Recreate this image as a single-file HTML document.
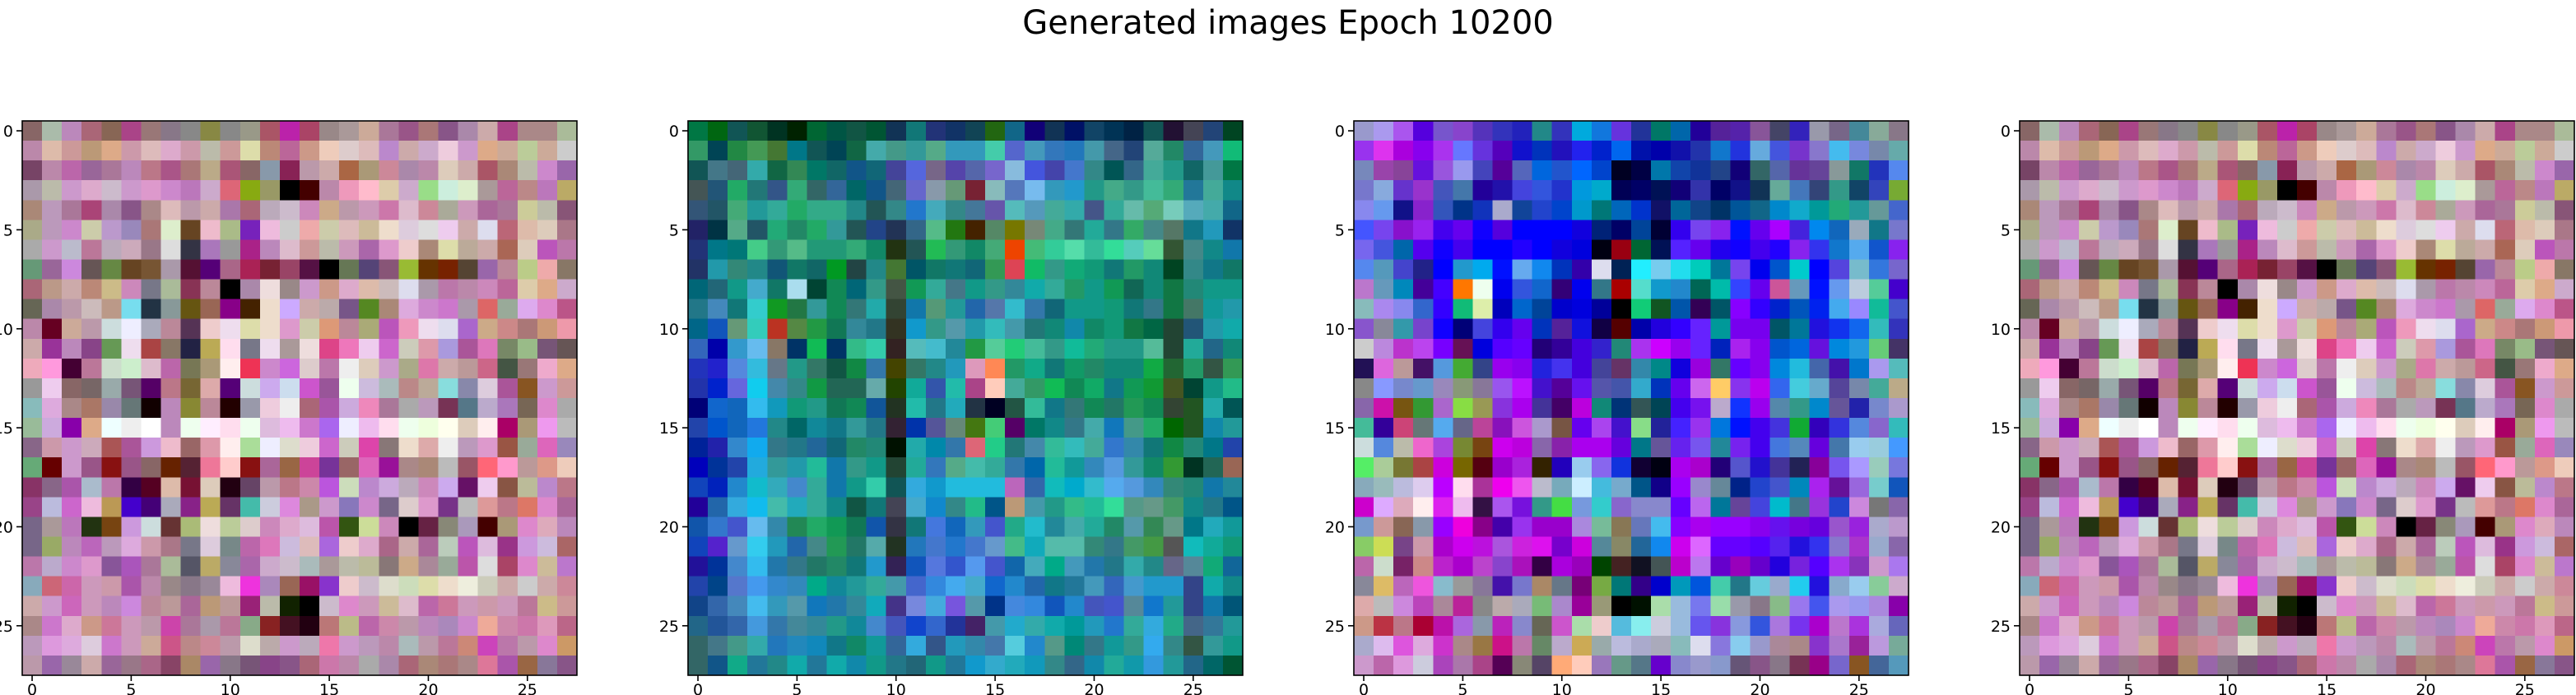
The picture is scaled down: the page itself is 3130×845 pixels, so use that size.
<!DOCTYPE html>
<html><head><meta charset="utf-8"><title>Generated images Epoch 10200</title>
<style>html,body{margin:0;padding:0;background:#fff;}svg{display:block;}text{font-family:"DejaVu Sans","Liberation Sans",sans-serif;}</style>
</head><body>
<svg id="fig" width="3130" height="845" viewBox="0 0 3130 845" xmlns="http://www.w3.org/2000/svg">
<text x="1565" y="41" font-size="40" text-anchor="middle" fill="#000">Generated images Epoch 10200</text>
</svg>
<script>
const tickValues = [0,5,10,15,20,25];
const tickLabels = ["0","5","10","15","20","25"];
const panel1 = [
"866 aba b8b a67 865 a48 977 878 888 884 888 998 a56 b2a a46 988 a99 ca9 a79 958 a77 858 a8a caa a48 a88 a88 ab9",
"b8a dba c99 b97 da8 c9a dbb dac c9a bba c99 dda b87 b69 c98 ecb dcc dbb b8c caa cac ecd c9c da8 ca9 bc9 ca9 ccc",
"746 b8a b6a 969 a79 b8b b78 a58 a77 ba8 a57 866 89a 825 b9a caa a64 a97 c89 a8a b8a dcb caa a56 a87 bba c8c 96a",
"a9a bba c9c dac cbc c9c d9c c8c b7b cac d67 8a1 996 000 400 b8a e9b fbc dca cac 9d8 ced dec a99 b69 b88 b7b ba6",
"a87 b9b a79 a47 a8a 858 a88 dbb b9a caa a7a a67 bab cbc c8b ca8 b9a c9b c7a dbc c89 aa9 c9b a69 a79 cc9 bba 857",
"aa8 b9b c8c cca b9c 98b a77 dec 642 ebc ab8 72b ebd ccc eaa cca dbb cb9 edc dcd ddd ece caa dde b67 dba dcb a78",
"aaa c9c bbc b79 bab cab 978 ddd 334 a7b 999 a28 b8b dbc c99 bba c9b a6a d9c ecc a87 dda ba9 caa a65 dcb b5b b7a",
"697 969 c8d 655 684 642 753 a9a 513 507 a68 a25 723 946 514 000 675 547 857 9b3 630 720 543 96a b89 bc8 eaa 876",
"a67 b98 caa b87 cb8 c8b 778 ab9 835 b89 000 a8a edd 988 c9c c98 dac dba cbb dde a9a b7a b8a c8b b69 dca da8 cac",
"665 a8a b9a cbb b98 7de 234 899 651 965 808 420 edc caf caa baa 758 582 a87 dad c8c c7c a9a d66 9a9 dae d8c b58",
"b8a 602 ca9 b9a cdd eef aab b89 535 ecc ede dda edc d9c cca d97 b89 aa7 b5b e9b ede dde a6c ca8 c88 a77 c97 e9a",
"caa 939 b8b 848 695 ede a44 876 224 ba5 fde 778 ede a99 edd d48 e7b ece c6c ccb d9a a9d a59 d7b 786 9b8 757 655",
"eab f9d 403 b79 cdc cec dbc b6a 775 a97 fee e35 c8c c6d dcc b7a eee dcb c9c aa8 d7a caa b99 c68 454 977 eac da8",
"999 ece 866 766 9aa 757 506 b78 763 daa 507 cdd cae cde c5c 959 efe cbd abb b88 ba9 8dd 88a dcd a59 852 c9c c99",
"8bb dad a88 a76 98a 677 100 b8b 883 b89 200 99a ecd eee a67 a5a cad e8b a79 aaa b9b 735 578 bac a7b 765 d8c aaa",
"9b9 cad 80a da8 eff eee fff b8b efe fef fde efe dbd ebe c7c a6e eef ebe fde efe efd ffe dcb fee a06 a97 e9e bbb",
"868 c9a c9c cab a55 a59 c9d ebc 966 d9a fee ad9 eef ddc ecd c6c ccb d4a 877 edc daa eee b9b d9c 954 9a9 d6b 98b",
"6a7 600 c9c 958 811 958 866 620 523 e79 fcc 811 a69 964 c49 739 966 d6b 919 a88 a87 bbb 956 f67 f9c b99 d98 ecb",
"836 868 a5a abc b7a 304 502 dba 713 dcb 201 646 b9a b78 c8a b5d cdb b8c cad bab c8b cae 616 ece 854 bb9 b8c b78",
"948 bbd c6c ebd b95 40c 407 aab 828 ba5 636 4ba ccd d8d a98 c9c 87b c8c 768 dcc d9c 738 bbb d99 b78 d76 d8c a69",
"768 a99 b7b 231 741 c9d cdd 633 ab7 edd bc9 dcc c8b dac dbd b5a 351 cd9 c8b 000 624 887 a9b 400 a97 d8c dab b8b",
"768 9a6 b8b b6b b9b dad c9a a78 778 dcd 788 b6a d7b cbd dbb a6d ecc dac a68 caa a69 bcb b5b dbd 938 c9d cbd a66",
"b7a bac c8c d9c 859 a5b a79 ab9 556 ba6 889 a6a cac cbc abb a99 bba bb9 877 ca8 a89 9a9 b5a ddd a46 d8c cb9 b7c",
"8ab c67 c6a c9b c9a a5a b8a 988 878 989 ebd e3d a8b 965 916 83c ecc cbc ddc cdb dda edc eed ccb caa ccc caa c89",
"caa c9c c6b c9b b8b c8d b89 b99 a69 b97 b99 927 bba 120 000 cbc d8c c9b cb9 dbc b6a c79 c9b c9a c9b b79 cb8 c99",
"a88 c7c dac c98 c79 c9b b9a c4a a79 a9a b79 8a8 822 412 201 b77 bb8 b6a c8a b9a b8b a8b c8c ea9 c8a c7a d9b b68",
"b9b d9d dad dcd c7c c9b ca9 c58 b88 c89 b9a ddc baa c9c bab e7a c9c b9b b8a abb b9a b79 c87 c4b b7a b9a d8c c96",
"b9a 96a 989 caa 969 978 a68 846 a86 96a 878 757 848 858 a67 c7a b8a aaa a8a a67 a87 a77 a88 d79 a5a 964 879 858"];
const panel2 = [
"074 061 155 153 032 020 063 054 154 053 135 177 237 136 145 261 168 107 135 016 146 035 024 155 213 445 247 042",
"396 045 284 495 473 078 155 045 164 4aa 498 399 5a8 39b 39b 4ca 56c 49b 37b 27b 49a 468 247 5a9 286 369 49b 1b7",
"155 478 467 3aa 164 385 076 166 158 167 449 56d 768 54a 56a 76c 8bd 45d 44a 47c 388 055 368 4a9 298 166 499 074",
"455 257 2a6 277 358 3a7 366 369 066 158 467 66c 89a 697 723 8bb 57b 7be 39b 29c 298 4a8 398 4b9 3a7 279 4a9 188",
"357 256 4a7 299 3a9 2a6 3a8 3a8 288 255 388 27c 4ab 388 479 65a 5bb 59b 4a9 3aa 458 3a9 6ba 5a7 7cb 5ab 4aa 168",
"226 034 5a8 256 2a7 286 2a6 399 255 248 235 368 5b8 271 420 586 770 787 4a8 377 2a9 378 3a6 488 576 178 29b 136",
"237 078 077 4c8 397 5b8 297 297 3a7 186 231 255 2b5 397 186 4a7 e40 4b7 3c9 5da 3b9 3d9 5cb 6d9 353 488 188 17a",
"236 29a 387 288 157 176 166 092 244 288 473 056 176 177 167 395 d45 1b6 398 1a7 197 177 296 187 042 388 178 176",
"067 267 198 4ac 176 ade 043 185 067 398 454 195 3a9 478 198 398 389 1aa 3a9 296 198 195 165 187 174 287 198 198",
"278 48b 177 3cc 192 274 399 185 377 2aa 343 17a 597 299 26a 57a 3bc 37a 167 198 198 197 177 378 174 476 199 29a",
"068 15b 697 3cb b32 584 294 175 389 278 332 19c 398 59a 29a 3bb 49a 277 187 18a 186 197 174 064 243 257 29a 1aa",
"36b 00a 39c 6be 876 036 1b5 036 3b8 3ca 322 5bb 4bc 289 294 5c9 2c7 4b9 398 1b9 2a7 298 298 5b9 243 2a9 268 187",
"23b 22c 58d 3bd 678 298 376 154 184 37a 440 376 288 29b d9b f85 296 1a8 177 196 286 187 187 1a4 263 296 354 395",
"23a 02c 66d 1ce 48a 388 194 265 265 6aa 240 1a9 35a 2ba a48 fcb 4a9 396 1b5 185 1a6 178 195 193 452 043 198 2b8",
"007 16c 16b 3be 19b 197 298 175 185 159 232 2ba 278 2ab 234 002 254 3b9 178 377 185 276 295 185 343 252 2aa 055",
"24a 05c 16b 27d 288 066 189 178 399 278 323 03a 559 687 471 4c7 506 076 188 378 4aa 17b 498 2a6 060 252 18a 299",
"029 22a 38c 1ae 378 278 269 167 286 287 010 2aa 08a 37a d67 2c8 277 48a 3b9 3bb 4a9 37c 38a 177 184 287 078 24a",
"00b 039 24a 2ad 399 29a 2b9 17a 398 198 243 2a9 37b 5a8 4ba 3a9 37a 06a 2b9 199 38b 59d 399 186 393 032 265 965",
"14b 02b 28c 1bc 3ab 48c 3a9 17a 198 3ca 155 3ad 19c 2bd 2bd 2bd b6b 36a 1bb 0ac 3bc 5ae 59d 38b 387 287 17a 289",
"209 26a 3ad 1be 4ba 2ab 3a9 188 154 177 445 4ac 18c 388 2b8 058 b97 49a 298 3b8 2b9 3d9 598 698 496 188 278 058",
"15a 37c 45c 6be 38a 285 2a6 195 175 15a 334 177 47d 16b 39b 45c 2a8 2bc 289 4aa 2a9 286 59a 385 698 078 2ab 199",
"14b 52c 69c 3ce 29b 26a 488 295 276 5aa 232 27b 47c 27c 47c 69c 4b8 1ab 5ba 5ba 387 378 496 494 555 1bb 1a9 197",
"219 039 48c 3be 27a 378 276 286 177 29c 325 15b 57d 35c 59e 45c 16a 4ab 0a8 49b 27a 278 3aa 288 668 589 1a7 169",
"24a 048 57c 49e 38c 38b 0a8 189 299 3a9 49a 46c 38d 4ae 4ac 16c 28c 26a 178 279 49b 36b 49c 29c 29c 348 1aa 188",
"148 36a 48b 4be 39b 59a 17b 27a 389 1ab 438 78d 4ad 75d 59a 038 48d 38d 15b 28c 45b 45c 589 17c 299 348 17a 057",
"268 259 36a 49d 37a 489 389 298 189 48c 45b 14c 36c 239 426 49a 2ac 3aa 1aa 099 29b 27c 3a9 3ad 2a8 468 379 299",
"366 478 498 3aa 27b 28b 18b 178 186 199 369 3ad 358 29b 38a 47a 5cd 28c 598 087 378 199 398 3ae 388 354 399 198",
"366 158 1a8 279 288 1aa 279 1aa 18a 198 278 267 198 279 19c 3ac 2ab 19b 388 368 18a 2a9 19a 39d 299 268 066 053"];
const panel3 = [
"99c a9e a5e 50d 75c 84c 53b 33b 22b 288 33b 0ad 17d 63d 239 076 06a 209 529 52a 859 446 32b 99a 768 489 8a9 878",
"93e d3e a0d 80e a3e 67f 63d 50b 11c 03b 21b 22e 02c 06e 01a 00a 11a 23a 17c 23d 6ad 45d 73c 87c 4be 78d 78a 6aa",
"78b 94a 849 61d 95d 99e 44b 509 56b 06d 25c 06f 04c 002 004 07a 14a 139 248 107 366 56a 639 649 899 176 23b 58e",
"77c 8ad 63c 93c 45b 47a 209 21a 44d 35d 23c 09d 0ac 005 006 015 107 33a 006 118 135 6a9 47b 347 398 146 34b 7a3",
"88e 69e 118 82c 35b 038 13b aac 149 24c 04c 09c 077 06b 03c 116 069 148 036 059 168 08c 1ac 099 2a7 299 699 46c",
"45f 74e 81c 92e 40e 60e 10f 50d 00f 00f 00f 10d 027 006 049 003 30e 74e 82e 01f 60e a0f 42d 08e 16b 9ab 178 77c",
"76e 45d 06a 50e 10f 40e 00f 00f 20f 00f 10d 00d 001 901 063 015 52f 60e 20e 10f 40e 20f 82e 33e 17c 5ae 15c 82e",
"58e 59b 44c 228 00f 29c 0ae 01f 6ae 18e 03b 30a dde 025 2ef 7ce 2de 0cb 079 74e 00e 05c 0cc 00f 54d 7bc 37d 76c",
"b7c 69b 08b 409 40f f70 efe 00e 35d 16c 307 00e 378 a00 5dc 19c 28c 065 0ba 34f 60e c59 69b 01f 69e bcd 5c9 40c",
"8bb a8e 88e 36c 30f 1b7 dea 00b 06c 049 00c 00d 009 000 1c7 152 05a 305 056 80f 30f 02c 05b 02e 4ae 98f 1b9 45c",
"85c 889 39a 74c 10f 007 44d 30e 60e 03b 529 11d 104 500 00a 20d 30f 62f 099 70e 70e 056 079 21d 13e 16e 3bb 33b",
"ccc b8d b3c b4e 70f 615 00d 50f 60f 207 309 40d 32c 287 a3e c0f 90e 62f 02b a2e 80e 05c 06d 61d 08d 29d 6c7 436",
"215 d6d b99 416 59d 4a3 348 90e 80e 22d 43e 40d 449 636 38a 088 10d 90d 376 60f 80e 08d 2bd 46a 41a 07c a9e 5bb",
"888 89f 78c 69c 98b 897 879 95e b1f 41c 509 61e 55a 45a 3ac 03b 60e c6e fc6 83e b0e 36e 4cd 6ac 549 78a 4a9 ba8",
"86a c1a 751 393 a6c 8d4 995 83d a0e 439 406 b0d 187 037 355 045 40e 71e bac 13f 90e 58a 398 08c 659 22a 78c a9c",
"4b9 309 c47 677 5ae 668 b49 81b c5d a9c 754 60e a4e 41c 8d8 229 42f 93e 07d 01f 40e 43d 1a3 30b 33d 58d 86c 3bb",
"cdd 58d bba e6c a4d 783 741 c0e b0d 86a 82a a0e a0e 60d 078 659 62e 75e 289 72e 40e 47d 58b 60d 47a 9ce 9cd 49f",
"5e6 ac9 773 a44 c0d 760 501 90c a2d 320 20b 9ce 86e 13d 103 001 a0e a0c 207 55c 21c 439 225 809 75e a9f 9cb 77d",
"8ab 9bb bbd dce b0f fde a39 e0e e5e bbc 7ab cef 4bd 7ac 058 108 90f 98c 689 028 24c 45c 08b a2e 619 96d 7cc 15b",
"c0c daf dab fee d2e ebe 314 a5e 71d 398 4d4 79d 3cc 86c 88c 88c 60f b6e 079 649 44d 0bc 478 93d 24c c8d 777 86a",
"79c c99 865 89a 90f e0d 808 40a 93e 90c 90c a8d 7b9 875 67b 4be 80f a0e 90f 90f 80e 61e 70d 60d 95c 92d aac b9c",
"8c6 cd5 748 c9a a0c c0e b1d a5d c2d d1e 70c c0d 589 886 269 18e c0e d6f 60f 60f 50f 52e 21d 33e 87c a3c 9ac 86a",
"b6a cdc 726 c88 b2c a0c b4c 84c a1b 304 a0d 90b 040 422 112 455 b0c b7e 60c 90b 60c 20d 72d 50f a3e 83b c9c a7e",
"889 db6 b6b e5d 8bc 999 879 41a 77c a86 678 707 7a4 077 308 00c 09b 05d 4ca 278 6cd 9ac 2ce 21d 8ac 9ce 8c9 cac",
"daa bbb c8d b4b a89 b29 888 baa aab 7b7 a8c 909 997 000 010 ada 9bd 77e 9da 99a 878 8b8 97e 45e a9e 99e a8d 80a",
"c98 b34 b78 a03 b1a a6d 89a b2b 88c 665 c5c ada ecc 5bd 8ee ccd 9bd 65e 83d 89d 35d a7d 73e a0c b7c a3d aad 66b",
"aac dbe d5d dad c3c a88 974 c18 b7a 686 bac ca5 9aa bbd aac aab 8bb dde 87d 8ce 99c a89 a88 83c a7c 929 b9d 7a9",
"c9c b6a d9d ccd a4b a7a a48 505 887 546 fa7 fcb 97b 698 578 60c 88c 99c 89c 657 858 878 735 908 76c 852 469 59b"];
const panel4 = panel1.slice();
const panelsData = [panel1, panel2, panel3, panel4];

const NS = "http://www.w3.org/2000/svg";
const svg = document.getElementById('fig');
const AX_TOP = 147, AX_SIZE = 674, N = 28;
const panelLeft = i => 27 + i * 809;
function mk(tag, attrs){const e=document.createElementNS(NS,tag);for(const k in attrs)e.setAttribute(k,attrs[k]);return e;}

panelsData.forEach((rows, p) => {
  const x0 = panelLeft(p);
  const cell = AX_SIZE / N;
  const sx = v => x0 + (v + 0.5) * cell;
  const sy = v => AX_TOP + (v + 0.5) * cell;
  const g = mk('g', {});
  
  
  svg.appendChild(g);
  const cells = mk('g', {'shape-rendering':'crispEdges'});
  
  
  g.appendChild(cells);
  rows.forEach((row, r) => {
    row.split(' ').forEach((c, col) => {
      const rect = mk('rect', {x: (sx(col) - cell/2).toFixed(2), y: (sy(r) - cell/2).toFixed(2), width: (cell + 0.6).toFixed(2), height: (cell + 0.6).toFixed(2), fill: '#' + c});
      
      
      cells.appendChild(rect);
    });
  });
  const frame = mk('rect', {x: x0, y: AX_TOP, width: AX_SIZE, height: AX_SIZE, fill: 'none', stroke: '#000', 'stroke-width': 1.6});
  
  
  g.appendChild(frame);
  tickValues.forEach((v, i) => {
    const tx = mk('line', {x1: sx(v), x2: sx(v), y1: AX_TOP + AX_SIZE, y2: AX_TOP + AX_SIZE + 7, stroke: '#000', 'stroke-width': 1.6});
    
    
    g.appendChild(tx);
    const lx = mk('text', {x: sx(v), y: AX_TOP + AX_SIZE + 24, 'font-size': 19, 'text-anchor': 'middle', fill: '#000'});
    lx.textContent = tickLabels[i];
    
    
    g.appendChild(lx);
    const ty = mk('line', {x1: x0 - 7, x2: x0, y1: sy(v), y2: sy(v), stroke: '#000', 'stroke-width': 1.6});
    
    
    g.appendChild(ty);
    const ly = mk('text', {x: x0 - 11, y: sy(v) + 7, 'font-size': 19, 'text-anchor': 'end', fill: '#000'});
    ly.textContent = tickLabels[i];
    
    
    g.appendChild(ly);
  });
});
</script>
</body></html>
